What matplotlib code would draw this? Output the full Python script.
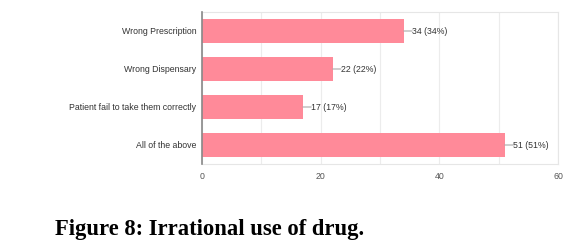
import matplotlib
matplotlib.use("Agg")
import matplotlib.pyplot as plt

categories = ["Wrong Prescription", "Wrong Dispensary", "Patient fail to take them correctly", "All of the above"]
counts = [34, 22, 17, 51]
percents = [34, 22, 17, 51]
xticks = [0, 20, 40, 60]

fig = plt.figure(figsize=(5.8, 2.46), dpi=100)
ax = fig.add_axes([202/580, 1-164/246, (558-202)/580, (164-12)/246])

ypos = list(range(len(categories)))
ax.barh(ypos, counts, height=0.62, color="#ff8a99", zorder=3)
ax.set_ylim(len(categories)-0.5, -0.5)
ax.set_xlim(0, 60)
ax.set_xticks(xticks)
ax.set_xticks(range(0, 61, 10), minor=True)
ax.set_yticks(ypos)
ax.set_yticklabels(categories, fontsize=6.3, family="Liberation Sans", color="#333333")
ax.set_xticklabels([str(t) for t in xticks], fontsize=6.3, family="Liberation Sans", color="#555555")
ax.tick_params(axis="both", which="both", length=0)
ax.tick_params(axis="x", pad=6)
ax.tick_params(axis="y", pad=4)
ax.grid(axis="x", which="both", color="#ececec", linewidth=0.8, zorder=0)
for s in ["top", "right", "bottom"]:
    ax.spines[s].set_color("#e6e6e6")
    ax.spines[s].set_linewidth(0.8)
ax.spines["left"].set_color("#888888")
ax.spines["left"].set_linewidth(1.2)
ax.spines["left"].set_zorder(4)

for y, c, p in zip(ypos, counts, percents):
    ax.annotate(f"{c} ({p}%)", xy=(c, y), xytext=(6, 0), textcoords="offset points",
                va="center", ha="left", fontsize=6.3, family="Liberation Sans", color="#333333",
                bbox=dict(boxstyle="square,pad=0", fc="none", ec="none"),
                arrowprops=dict(arrowstyle="-", color="#aaaaaa", lw=0.8, shrinkA=0, shrinkB=0))

fig.text(55/580, 1-230/246, "Figure 8: Irrational use of drug.", fontsize=16.3, fontweight="bold",
         family="Liberation Serif", va="center", ha="left", color="black")

fig.savefig("out.png", dpi=100)
